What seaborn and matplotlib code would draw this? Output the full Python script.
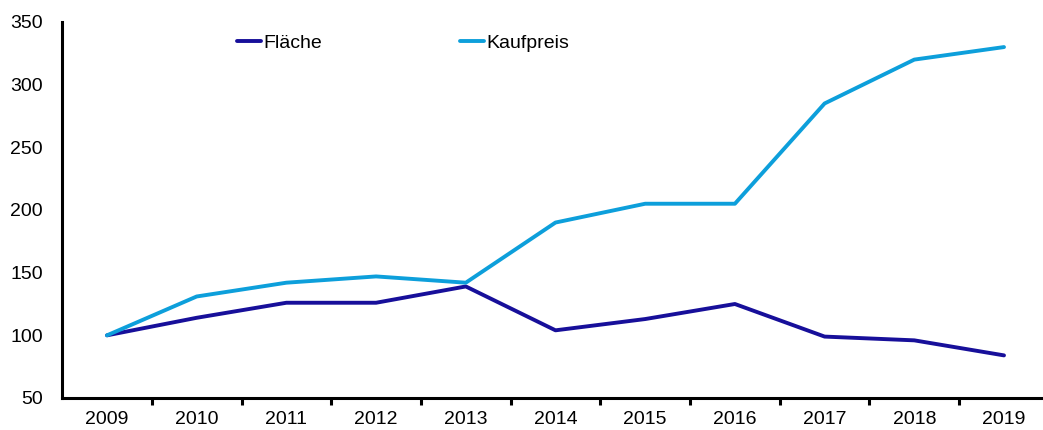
import numpy as np
import pandas as pd
import matplotlib
matplotlib.use("Agg")
import matplotlib.pyplot as plt
from matplotlib.ticker import MultipleLocator, FixedLocator
import seaborn as sns

years = [2009, 2010, 2011, 2012, 2013, 2014, 2015, 2016, 2017, 2018, 2019]
flaeche = [100, 114, 126, 126, 139, 104, 113, 125, 99, 96, 84]
kaufpreis = [100, 131, 142, 147, 142, 190, 205, 205, 285, 320, 330]

df = pd.DataFrame({
    "Jahr": years * 2,
    "Wert": flaeche + kaufpreis,
    "Serie": ["Fläche"] * len(years) + ["Kaufpreis"] * len(years),
})

sns.set_style("white")
plt.rcParams['font.family'] = ['Liberation Sans', 'DejaVu Sans']
plt.rcParams['text.color'] = 'black'

fig = plt.figure(figsize=(10.43, 4.30), dpi=100)
W, H = 1043, 430
x0, x1 = 62.15, 1048.85
ax = fig.add_axes([x0 / W, (H - 398) / H, (x1 - x0) / W, (398 - 22) / H])

sns.lineplot(data=df, x="Jahr", y="Wert", hue="Serie",
             palette={"Fläche": "#170f9a", "Kaufpreis": "#0d9fdb"},
             linewidth=2.8, ax=ax, legend=True)

ax.set_xlim(2008.5, 2019.5)
ax.set_ylim(50, 350)
ax.yaxis.set_major_locator(MultipleLocator(50))
ax.xaxis.set_major_locator(FixedLocator(years))
ax.xaxis.set_minor_locator(FixedLocator([y + 0.5 for y in years[:-1]]))
ax.set_xticklabels([str(y) for y in years])
ax.set_xlabel("")
ax.set_ylabel("")

for s in ["top", "right"]:
    ax.spines[s].set_visible(False)
for s in ["left", "bottom"]:
    ax.spines[s].set_linewidth(2.2)
    ax.spines[s].set_color("black")

ax.tick_params(axis="x", which="major", length=0, pad=9, labelsize=14, labelcolor="black")
ax.tick_params(axis="x", which="minor", length=5, width=2.2, direction="out", color="black", bottom=True)
ax.tick_params(axis="y", length=0, pad=14, labelsize=14, labelcolor="black")

handles, labels = ax.get_legend_handles_labels()
ax.legend_.remove()
fig.legend(handles, labels, loc="center left", bbox_to_anchor=(237 / W, 1 - 43 / H),
           ncol=2, frameon=False, fontsize=14, handlelength=1.24, handletextpad=0.1,
           columnspacing=7.1, borderpad=0, borderaxespad=0)

fig.savefig("out.png", dpi=100)
